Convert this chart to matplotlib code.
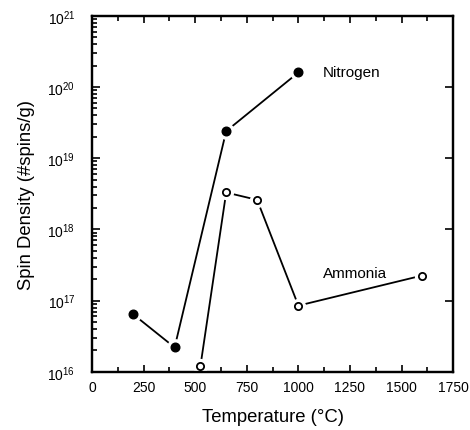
import numpy as np
import matplotlib
matplotlib.use("Agg")
import matplotlib.pyplot as plt
from matplotlib.ticker import FixedLocator, LogLocator, NullFormatter, FixedFormatter

plt.rcParams['font.family'] = ['Liberation Sans', 'DejaVu Sans']
plt.rcParams['mathtext.fontset'] = 'custom'
plt.rcParams['mathtext.rm'] = 'Liberation Sans'

# data
nitrogen_t = [200, 400, 650, 1000]
nitrogen_spin = [6.4e16, 2.2e16, 2.4e19, 1.6e20]
ammonia_t = [525, 650, 800, 1000, 1600]
ammonia_spin = [1.2e16, 3.3e18, 2.6e18, 8.5e16, 2.25e17]

xticks = [0, 250, 500, 750, 1000, 1250, 1500, 1750]
decades = [16, 17, 18, 19, 20, 21]

fig = plt.figure(figsize=(4.70, 4.31), dpi=100)
ax = fig.add_axes([0.196, 0.135, 0.768, 0.826])

# lines first, then a white halo so the line stops short of each marker
ax.plot(nitrogen_t, nitrogen_spin, '-', color='black', lw=1.3, zorder=2)
ax.plot(ammonia_t, ammonia_spin, '-', color='black', lw=1.3, zorder=2)
ax.plot(nitrogen_t, nitrogen_spin, 'o', ms=11, color='white', zorder=3)
ax.plot(ammonia_t, ammonia_spin, 'o', ms=10, color='white', zorder=3)
ax.plot(nitrogen_t, nitrogen_spin, 'o', ms=6.2, color='black', zorder=4)
ax.plot(ammonia_t, ammonia_spin, 'o', ms=5.2, mfc='white', mec='black', mew=1.3, zorder=4)

ax.text(1120, 1.62e20, 'Nitrogen', fontsize=11, va='center', ha='left')
ax.text(1117, 2.45e17, 'Ammonia', fontsize=11, va='center', ha='left')

ax.set_yscale('log')
ax.set_xlim(0, 1750)
ax.set_ylim(1e16, 1e21)

ax.xaxis.set_major_locator(FixedLocator(xticks))
ax.xaxis.set_minor_locator(FixedLocator(np.arange(125, 1750, 250)))
ax.set_xticklabels([str(v) for v in xticks])

ax.yaxis.set_major_locator(FixedLocator([10.0 ** d for d in decades]))
ax.yaxis.set_major_formatter(FixedFormatter([r'$\mathregular{10^{%d}}$' % d for d in decades]))
ax.yaxis.set_minor_locator(LogLocator(base=10, subs=np.arange(2, 10)))
ax.yaxis.set_minor_formatter(NullFormatter())

ax.tick_params(which='both', direction='in', top=True, right=False, labelsize=10, width=1.2)
ax.tick_params(which='major', length=5, pad=6)
ax.tick_params(which='minor', length=3.5)
ax.tick_params(axis='y', which='major', length=6, pad=12)

# right side: decade ticks only
ax2 = ax.twinx()
ax2.set_yscale('log')
ax2.set_ylim(1e16, 1e21)
ax2.yaxis.set_major_locator(FixedLocator([10.0 ** d for d in decades]))
ax2.yaxis.set_minor_locator(FixedLocator([]))
ax2.tick_params(axis='y', which='major', direction='in', length=6, width=1.2, labelright=False)

for a in (ax, ax2):
    for s in a.spines.values():
        s.set_linewidth(1.6)

ax.set_xlabel('Temperature (°C)', fontsize=13.3, labelpad=10)
ax.set_ylabel('Spin Density (#spins/g)', fontsize=13.3, labelpad=9)

fig.savefig('out.png', dpi=100)
